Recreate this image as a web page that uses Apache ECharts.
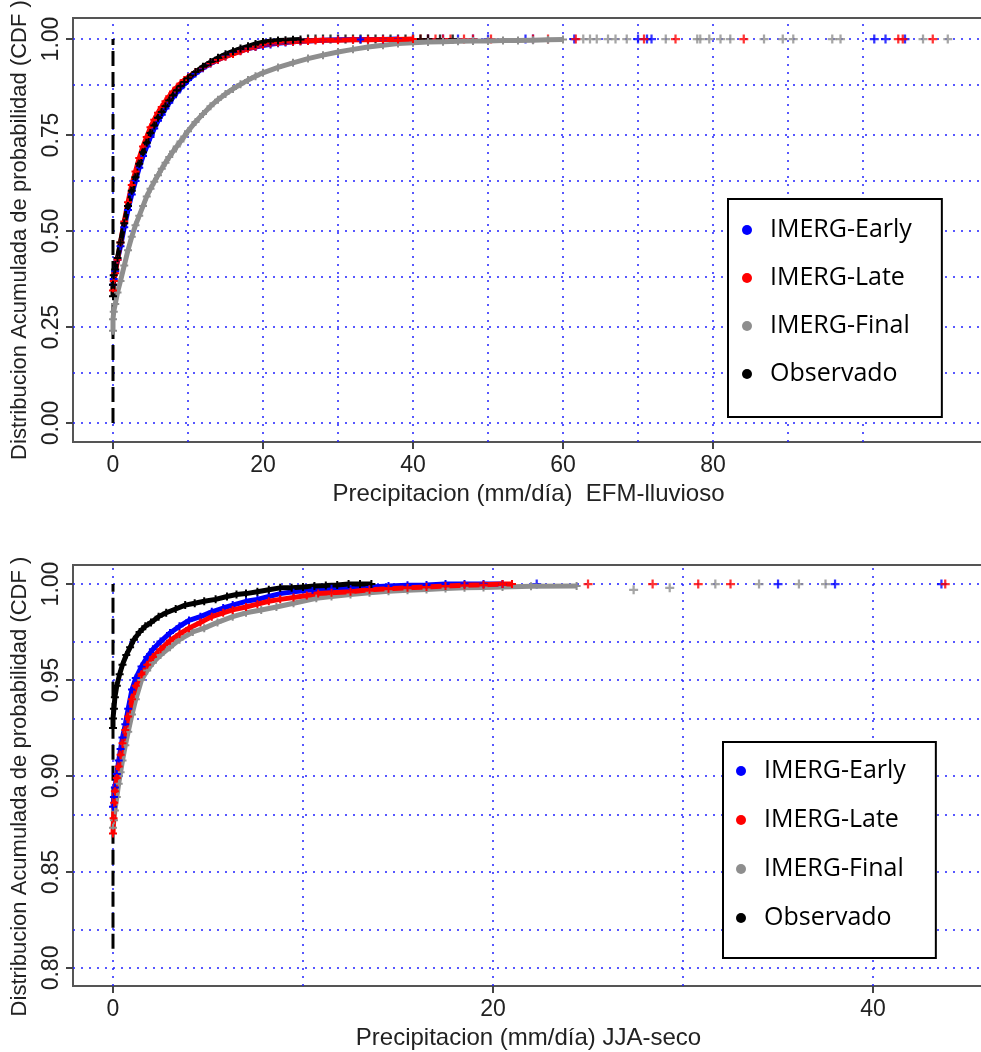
<!DOCTYPE html>
<html>
<head>
<meta charset="utf-8">
<script src="https://cdn.jsdelivr.net/npm/echarts@6/dist/echarts.min.js"></script>
<style>
  html, body { margin: 0; padding: 0; background: #fff; }
  #cdfChart { width: 981px; height: 1052px; }
</style>
</head>
<body>
<div id="cdfChart"></div>
<script>
// nombres de las series (leyenda)
const seriesNames = ["IMERG-Early", "IMERG-Late", "IMERG-Final", "Observado"];

// ---- EFM (lluvioso): [precipitacion mm/dia, CDF] ----
const efmEarly = [[0,0.36],[0.1,0.375],[0.3,0.395],[0.6,0.425],[1,0.46],[1.5,0.51],[2,0.555],[2.5,0.595],[3,0.63],[3.5,0.665],[4,0.695],[4.5,0.72],[5,0.745],[5.5,0.767],[6,0.787],[6.5,0.803],[7,0.819],[7.5,0.834],[8,0.848],[8.5,0.861],[9,0.872],[9.5,0.883],[10,0.893],[11,0.91],[12,0.924],[13,0.936],[14,0.946],[15,0.955],[16,0.962],[17,0.969],[18,0.975],[19,0.979],[20,0.983],[21,0.986],[22,0.989],[23,0.991],[24,0.993],[25,0.994],[26,0.995],[28,0.997],[30,0.998],[33,0.999],[36,0.999],[38,1]];
const efmEarlyTail = [[40,1],[42,1],[44,1],[46,1],[48,1],[50,1],[55,1],[56,1],[61.5,1],[70,1],[71.2,1],[71.8,1],[101.5,1],[103,1],[105.6,1]];
const efmLate = [[0,0.345],[0.1,0.37],[0.3,0.39],[0.6,0.425],[1,0.47],[1.5,0.525],[2,0.575],[2.5,0.62],[3,0.655],[3.5,0.69],[4,0.72],[4.5,0.745],[5,0.77],[5.5,0.79],[6,0.808],[6.5,0.823],[7,0.838],[7.5,0.851],[8,0.863],[8.5,0.874],[9,0.884],[9.5,0.893],[10,0.9],[11,0.914],[12,0.926],[13,0.937],[14,0.946],[15,0.954],[16,0.961],[17,0.968],[18,0.975],[19,0.98],[20,0.985],[21,0.988],[22,0.99],[23,0.992],[24,0.993],[25,0.994],[26,0.995],[27,0.996],[28,0.997],[30,0.997],[32,0.998],[34,0.998],[36,0.999],[38,0.999],[40,1]];
const efmLateTail = [[41,1],[42,1],[43,1],[44,1],[45,1],[46.8,1],[48,1],[50.4,1],[56,1],[58,1],[61.7,1],[70.8,1],[75,1],[84.1,1],[104.7,1],[105.3,1],[109.3,1]];
const efmFinal = [[0,0.24],[0,0.27],[0.1,0.29],[0.3,0.31],[0.6,0.34],[1,0.37],[1.5,0.41],[2,0.45],[2.5,0.485],[3,0.515],[3.5,0.54],[4,0.565],[4.5,0.59],[5,0.61],[5.5,0.628],[6,0.645],[6.5,0.662],[7,0.678],[7.5,0.693],[8,0.707],[8.5,0.72],[9,0.733],[9.5,0.746],[10,0.76],[11,0.784],[12,0.805],[13,0.825],[14,0.842],[15,0.857],[16,0.87],[17,0.882],[18,0.893],[19,0.903],[20,0.912],[22,0.926],[24,0.938],[26,0.949],[28,0.958],[30,0.966],[32,0.973],[34,0.979],[36,0.984],[38,0.988],[40,0.99],[42,0.992],[44,0.993],[46,0.994],[48,0.995],[50,0.995],[52,0.996],[54,0.996],[56,0.997],[58,0.998],[60,0.999]];
const efmFinalTail = [[62.7,1],[63.6,1],[64.5,1],[66,1],[67,1],[68.5,1],[73.7,1],[77.9,1],[78.3,1],[79.5,1],[81,1],[82.3,1],[86.8,1],[89.3,1],[90.7,1],[95.9,1],[97,1],[108,1],[111.3,1]];
const efmObs = [[0,0.33],[0,0.36],[0.1,0.385],[0.3,0.4],[0.6,0.43],[1,0.47],[1.5,0.52],[2,0.565],[2.5,0.605],[3,0.64],[3.5,0.675],[4,0.705],[4.5,0.73],[5,0.755],[5.5,0.775],[6,0.795],[6.5,0.81],[7,0.825],[7.5,0.84],[8,0.853],[8.5,0.866],[9,0.877],[9.5,0.888],[10,0.898],[11,0.914],[12,0.928],[13,0.94],[14,0.951],[15,0.96],[16,0.968],[17,0.975],[18,0.981],[19,0.987],[20,0.992],[21,0.994],[22,0.996],[23,0.997],[24,0.998],[25,0.999]];
const efmObsTail = [[26,1],[27,1],[28,1],[29,1],[30,1],[31,1],[32,1],[33,1],[34,1],[35,1],[36,1],[37,1],[38,1],[39,1],[40,1],[41,1],[42,1],[43.6,1],[45.3,1]];
const efmZeroLine = [[0,0],[0,1]];
const efmXTicks = [0, 20, 40, 60, 80];
const efmYTicks = [0, 0.25, 0.5, 0.75, 1];
const efmGridX = [0, 10, 20, 30, 40, 50, 60, 70, 80, 90, 100];
const efmGridY = [0, 0.125, 0.25, 0.375, 0.5, 0.625, 0.75, 0.875, 1];

// ---- JJA (seco) ----
const jjaEarly = [[0,0.884],[0.05,0.889],[0.1,0.894],[0.2,0.901],[0.3,0.908],[0.4,0.914],[0.5,0.92],[0.65,0.927],[0.8,0.935],[1,0.945],[1.2,0.951],[1.5,0.957],[1.8,0.962],[2.1,0.966],[2.5,0.97],[3,0.9745],[3.5,0.978],[4,0.981],[4.6,0.983],[5.2,0.9855],[5.8,0.9875],[6.3,0.989],[7,0.991],[7.6,0.992],[8.2,0.9935],[8.8,0.995],[9.5,0.996],[10.5,0.997],[11.5,0.9975],[12.5,0.998],[13.5,0.9985],[14.5,0.999],[15.5,0.9993],[16.5,0.9995],[17.5,1],[18.5,1],[19.5,1],[20.5,1]];
const jjaEarlyTail = [[22.3,1],[35,1],[38,1],[43.6,1]];
const jjaLate = [[0,0.87],[0.03,0.878],[0.06,0.886],[0.1,0.892],[0.2,0.899],[0.3,0.905],[0.4,0.911],[0.5,0.917],[0.65,0.924],[0.8,0.931],[1,0.94],[1.2,0.947],[1.5,0.953],[1.8,0.958],[2.1,0.962],[2.5,0.966],[3,0.9705],[3.5,0.974],[4,0.977],[4.6,0.98],[5.2,0.983],[5.8,0.985],[6.3,0.9865],[7,0.988],[7.6,0.9895],[8.2,0.991],[8.8,0.992],[9.5,0.993],[10.2,0.994],[10.8,0.995],[11.5,0.9955],[12.5,0.996],[13.5,0.997],[14.5,0.9975],[15.5,0.998],[16.5,0.9985],[17.5,0.999],[18.5,0.9993],[19.5,0.9996],[20.5,1],[21,1]];
const jjaLateTail = [[25,1],[28.4,1],[30.8,1],[32.5,1],[43.8,1]];
const jjaFinal = [[0,0.873],[0.05,0.877],[0.1,0.882],[0.2,0.889],[0.3,0.896],[0.4,0.902],[0.5,0.908],[0.65,0.916],[0.8,0.923],[1,0.932],[1.2,0.94],[1.5,0.95],[1.8,0.955],[2.1,0.959],[2.5,0.963],[3,0.967],[3.5,0.971],[4.2,0.975],[4.8,0.977],[5.5,0.98],[6.3,0.983],[7,0.985],[7.8,0.9865],[8.6,0.988],[9.5,0.99],[10.7,0.9926],[11.5,0.9935],[12.5,0.9945],[13.5,0.9955],[14.5,0.9962],[15.5,0.9968],[16.5,0.9972],[17.5,0.9976],[18.5,0.998],[19.5,0.9982],[20.5,0.9985],[22,0.9988],[24.4,0.999]];
const jjaFinalTail = [[27.4,0.997],[29.3,0.998],[31.7,1],[34,1],[36.1,1],[37.5,1]];
const jjaObs = [[0,0.925],[0,0.93],[0.05,0.935],[0.1,0.941],[0.2,0.947],[0.35,0.953],[0.5,0.958],[0.7,0.963],[0.9,0.967],[1.1,0.971],[1.4,0.975],[1.7,0.978],[2,0.98],[2.4,0.983],[2.8,0.985],[3.3,0.987],[3.8,0.989],[4.3,0.99],[4.8,0.991],[5.4,0.992],[6,0.9935],[6.5,0.9945],[7,0.995],[7.6,0.996],[8.2,0.997],[8.8,0.998],[9.4,0.998],[10,0.9985],[10.6,0.999],[11.2,0.9992],[11.8,0.9995],[12.4,1],[13,1],[13.6,1]];
const jjaZeroLine = [[0,0.81],[0,1]];
const jjaXTicks = [0, 20, 40];
const jjaYTicks = [0.8, 0.85, 0.9, 0.95, 1];
const jjaGridX = [0, 10, 20, 30, 40];
const jjaGridY = [0.8, 0.825, 0.85, 0.875, 0.9, 0.925, 0.95, 0.975, 1];

const colors = { "IMERG-Early": "#0000ff", "IMERG-Late": "#ff0000", "IMERG-Final": "#8e8e8e", "Observado": "#000000" };
const PLUS = "path://M3,0H5V3H8V5H5V8H3V5H0V3H3Z";
const FONT = "'Liberation Sans', Arial, sans-serif";
const yTitle = "Distribucion Acumulada de probabilidad (CDF )";

function xAxisOpt(gi, min, max, ticks, name) {
  return {
    type: "value", gridIndex: gi, min: min, max: max,
    name: name, nameLocation: "middle", nameGap: 40,
    nameTextStyle: { fontFamily: FONT, fontSize: 24, color: "#222" },
    axisLine: { show: false, onZero: false },
    axisTick: { show: true, customValues: ticks, length: 7, lineStyle: { color: "#444", width: 2 } },
    axisLabel: { customValues: ticks, fontFamily: FONT, fontSize: 23, color: "#222", margin: 12 },
    splitLine: { show: false },
  };
}

function yAxisOpt(gi, min, max, ticks, shift) {
  return {
    type: "value", gridIndex: gi, min: min, max: max,
    name: yTitle, nameLocation: "middle", nameRotate: 90, nameGap: 42,
    nameTextStyle: { fontFamily: FONT, fontSize: 22, color: "#222", padding: shift },
    axisLine: { show: false, onZero: false },
    axisTick: { show: true, customValues: ticks, length: 7, lineStyle: { color: "#444", width: 2 } },
    axisLabel: {
      customValues: ticks, rotate: 90, fontFamily: FONT, fontSize: 23, color: "#222", margin: 10,
      formatter: (v) => v.toFixed(2),
    },
    splitLine: { show: false },
  };
}

function bodySeries(name, data, gi) {
  return {
    name: name, type: "line", xAxisIndex: gi, yAxisIndex: gi, data: data,
    symbol: PLUS, symbolSize: 8, showSymbol: true, showAllSymbol: true,
    lineStyle: { color: colors[name], width: 5 }, itemStyle: { color: colors[name] },
    silent: true, animation: false,
  };
}

function tailSeries(name, data, gi) {
  return {
    name: name, type: "scatter", xAxisIndex: gi, yAxisIndex: gi, data: data,
    symbol: PLUS, symbolSize: 9, itemStyle: { color: colors[name] },
    silent: true, animation: false,
  };
}

// linea vertical discontinua en x = 0 y la rejilla punteada azul
function zeroSeries(data, gridX, gridY, gi) {
  return {
    type: "line", xAxisIndex: gi, yAxisIndex: gi, data: data, showSymbol: false,
    lineStyle: { color: "#000", width: 3, type: [15, 6] }, silent: true, animation: false,
    markLine: {
      z: 1, silent: true, animation: false, symbol: ["none", "none"], label: { show: false },
      lineStyle: { color: "#2020ff", width: 1.5, type: [2, 6] },
      emphasis: { disabled: true },
      data: gridX.map((v) => ({ xAxis: v })).concat(gridY.map((v) => ({ yAxis: v }))),
    },
  };
}

function legendOpt(left, top, padding, itemGap, textPad) {
  return {
    data: seriesNames, orient: "vertical", left: left, top: top, icon: "circle",
    itemWidth: 10, itemHeight: 10, itemGap: itemGap, padding: padding,
    backgroundColor: "#fff", borderColor: "#000", borderWidth: 2, borderRadius: 0,
    selectedMode: false,
    textStyle: { fontFamily: "'Open Sans', sans-serif", fontSize: 25, lineHeight: 30, color: "#000", padding: [0, 0, 0, textPad] },
  };
}

let myChart = echarts.init(document.getElementById("cdfChart"), null, { renderer: "canvas" });

let series = [
  zeroSeries(efmZeroLine, efmGridX, efmGridY, 0),
  bodySeries("IMERG-Final", efmFinal, 0), tailSeries("IMERG-Final", efmFinalTail, 0),
  bodySeries("IMERG-Early", efmEarly, 0), tailSeries("IMERG-Early", efmEarlyTail, 0),
  bodySeries("IMERG-Late", efmLate, 0), tailSeries("IMERG-Late", efmLateTail, 0),
  bodySeries("Observado", efmObs, 0), tailSeries("Observado", efmObsTail, 0),

  zeroSeries(jjaZeroLine, jjaGridX, jjaGridY, 1),
  bodySeries("IMERG-Final", jjaFinal, 1), tailSeries("IMERG-Final", jjaFinalTail, 1),
  bodySeries("IMERG-Early", jjaEarly, 1), tailSeries("IMERG-Early", jjaEarlyTail, 1),
  bodySeries("IMERG-Late", jjaLate, 1), tailSeries("IMERG-Late", jjaLateTail, 1),
  bodySeries("Observado", jjaObs, 1),
];

myChart.setOption({
  animation: false,
  backgroundColor: "#fff",
  grid: [
    { left: 73, top: 18, width: 911, height: 424, outerBoundsMode: "none", show: true, borderColor: "#555", borderWidth: 2, backgroundColor: "transparent" },
    { left: 73, top: 565, width: 911, height: 421, outerBoundsMode: "none", show: true, borderColor: "#555", borderWidth: 2, backgroundColor: "transparent" },
  ],
  xAxis: [
    xAxisOpt(0, -5.333, 116.13, efmXTicks, "Precipitacion (mm/día)  EFM-lluvioso"),
    xAxisOpt(1, -2.105, 45.84, jjaXTicks, "Precipitacion (mm/día) JJA-seco"),
  ],
  yAxis: [
    yAxisOpt(0, -0.0495, 1.0547, efmYTicks, 0),
    yAxisOpt(1, 0.7906, 1.0099, jjaYTicks, [0, 22, 0, 0]),
  ],
  legend: [
    legendOpt(728, 199, [16, 30, 28, 14], 18, 13),
    legendOpt(723, 742, [14, 30, 25, 13], 19, 13),
  ],
  series: series,
});
</script>
</body>
</html>
